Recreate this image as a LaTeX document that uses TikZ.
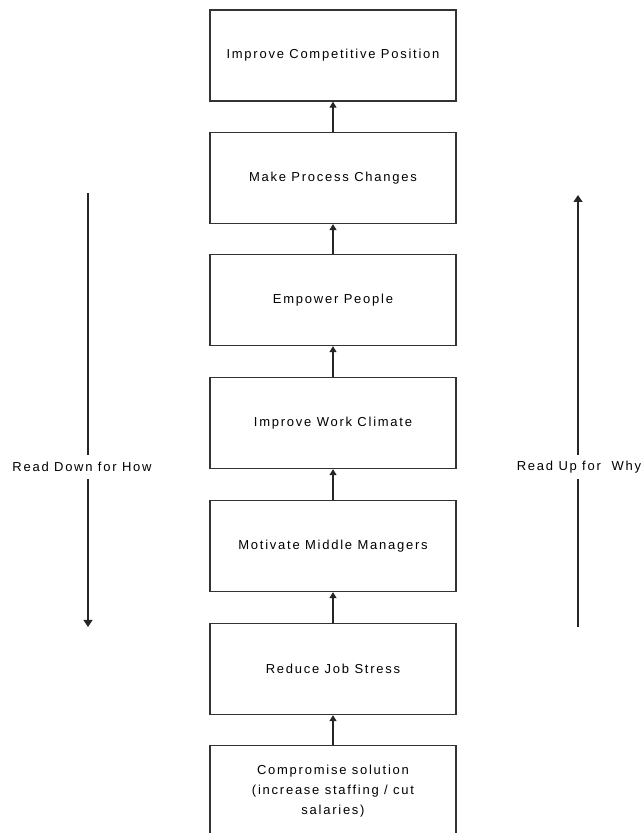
\documentclass[tikz,border=0pt]{standalone}
\usepackage{fontspec}
\setmainfont{Liberation Sans}[LetterSpace=13.5]
\usetikzlibrary{arrows.meta}
\begin{document}
\begin{tikzpicture}[x=1pt,y=1pt,
  font=\fontsize{13}{20}\selectfont,
  box/.style={draw=black!80,line width=1.3pt,minimum width=246pt,minimum height=91pt,align=center,inner sep=0pt},
  link/.style={draw=black!85,line width=1.2pt,-{Triangle[width=7pt,length=6pt]}},
  side/.style={draw=black!85,line width=1.2pt},
  sidetip/.style={-{Triangle[width=9pt,length=7pt]}},
  lbl/.style={inner xsep=0pt,inner ysep=0pt,minimum height=24pt}]
\useasboundingbox (0,0) rectangle (644,833);
\clip (0,0) rectangle (644,833);
\node[box] (b1) at (333,777.5) {Improve Competitive Position};
\node[box] (b2) at (333,655) {Make Process Changes};
\node[box] (b3) at (333,533) {Empower People};
\node[box] (b4) at (333,410) {Improve Work Climate};
\node[box] (b5) at (333,287) {Motivate Middle Managers};
\node[box] (b6) at (333,164) {Reduce Job Stress};
\node[box] (b7) at (333,42) {Compromise solution\\(increase staffing / cut\\salaries)};
\draw[link] (b2.north) -- (b1.south);
\draw[link] (b3.north) -- (b2.south);
\draw[link] (b4.north) -- (b3.south);
\draw[link] (b5.north) -- (b4.south);
\draw[link] (b6.north) -- (b5.south);
\draw[link] (b7.north) -- (b6.south);
% left side arrow
\coordinate (ltop) at (88,640);
\coordinate (lbot) at (88,206);
\node[lbl] (ltext) at (82,366) {Read Down for How};
\draw[side] (ltop) -- (ltop |- ltext.north);
\draw[side,sidetip] (ltop |- ltext.south) -- (lbot);
% right side arrow
\coordinate (rtop) at (578,638);
\coordinate (rbot) at (578,206);
\node[lbl] (rtext) at (579,366) {Read Up for \ Why};
\draw[side] (rbot) -- (rbot |- rtext.south);
\draw[side,sidetip] (rbot |- rtext.north) -- (rtop);
\end{tikzpicture}
\end{document}
